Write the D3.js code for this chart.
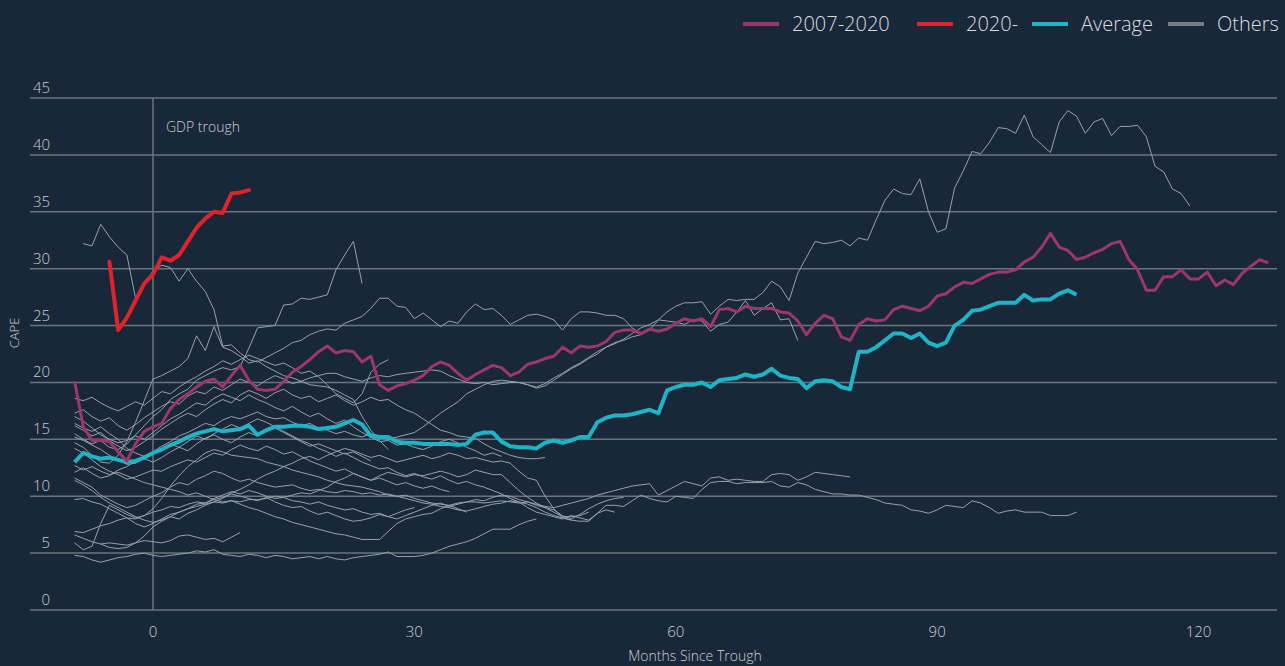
<!DOCTYPE html>
<html>
<head>
<meta charset="utf-8">
<script src="https://cdn.jsdelivr.net/npm/d3@7"></script>
<style>
  html, body { margin: 0; padding: 0; background: #182838; }
  svg { display: block; font-family: "Open Sans", "Noto Sans", sans-serif; font-weight: 300; }
</style>
</head>
<body>
<svg id="chart" width="1285" height="666"></svg>
<script>
// CAPE around recessions, months relative to the GDP trough

// 2007-2020 cycle, monthly from month -9
var gfcStart = -9;
var gfcValues = [20.1,16.1,14.9,14.9,14.8,13.9,13.1,14.6,15.7,16.1,
  16.4,17.7,18.5,19.0,19.6,20.1,20.3,19.6,20.6,21.5,
  20.2,19.4,19.3,19.4,20.1,20.9,21.4,22.0,22.7,23.2,
  22.6,22.8,22.7,21.8,22.3,19.8,19.3,19.7,19.9,20.2,
  20.6,21.4,21.8,21.5,20.8,20.2,20.7,21.1,21.5,21.3,
  20.6,20.9,21.6,21.8,22.1,22.3,23.1,22.6,23.2,23.1,
  23.2,23.6,24.4,24.6,24.6,24.3,24.7,24.5,24.7,25.2,
  25.6,25.4,25.6,24.9,26.4,26.5,26.2,26.7,26.5,26.5,
  26.5,26.2,26.1,25.4,24.2,25.2,25.9,25.6,24.0,23.7,
  25.1,25.6,25.4,25.5,26.4,26.7,26.5,26.3,26.7,27.6,
  27.8,28.4,28.8,28.7,29.1,29.5,29.7,29.7,29.9,30.6,
  31.0,31.9,33.1,31.9,31.6,30.8,31.0,31.4,31.7,32.2,
  32.4,30.8,29.9,28.1,28.1,29.3,29.3,29.9,29.1,29.1,
  29.7,28.5,29.0,28.6,29.6,30.2,30.8,30.5];

// 2020- cycle, monthly from month -5
var covidStart = -5;
var covidValues = [30.6,24.6,25.7,27.2,28.7,29.5,31.0,30.7,31.2,32.4,
  33.6,34.4,35.0,34.9,36.6,36.7,36.9];

// average of all cycles, monthly from month -9
var avgStart = -9;
var avgValues = [13.0,13.8,13.5,13.3,13.4,13.2,13.0,13.1,13.4,13.8,
  14.1,14.5,14.8,15.2,15.5,15.7,15.9,15.7,15.8,15.9,
  16.2,15.4,15.8,16.1,16.1,16.2,16.2,16.1,15.9,16.0,
  16.1,16.4,16.7,16.3,15.3,15.2,15.2,14.8,14.7,14.7,
  14.6,14.6,14.6,14.6,14.5,14.6,15.4,15.6,15.6,14.8,
  14.4,14.3,14.3,14.2,14.7,14.9,14.7,14.9,15.2,15.2,
  16.5,16.9,17.1,17.1,17.2,17.4,17.6,17.3,19.3,19.6,
  19.8,19.8,20.0,19.6,20.2,20.3,20.4,20.7,20.5,20.7,
  21.2,20.6,20.4,20.3,19.5,20.1,20.2,20.1,19.6,19.4,
  22.7,22.7,23.1,23.7,24.3,24.3,23.9,24.3,23.5,23.2,
  23.5,25.0,25.5,26.3,26.4,26.7,27.0,27.0,27.0,27.7,
  27.2,27.3,27.3,27.8,28.1,27.7];

// the other cycles: first month of each, then monthly values
var othersStart = [-8, -9, -9, -9, -9, -9, -9, -9, -9, -9, -6, -9, -9, -9, -9, -9, -9, -9, -9, -9];
var othersValues = [
  [32.2,32.0,33.9,32.8,31.9,31.2,27.4,28.6,29.8,30.3,30.1,28.9,30.0,28.9,28.0,26.4,23.2,23.3,22.6,22.0,
   21.8,22.2,22.6,23.0,23.5,23.7,24.2,24.5,24.7,24.6,25.2,25.5,25.8,26.5,27.4,27.4,26.7,26.6,25.6,26.1,
   25.5,24.9,25.4,25.2,26.2,26.9,26.4,26.5,25.9,25.1,25.5,25.9,26.0,25.8,25.5,24.6,25.6,26.2,26.2,26.1,
   25.9,25.9,25.6,24.8,24.3,24.6,25.5,25.4,25.3,25.1,25.5,25.4,24.5,25.1,25.3,26.2,27.2,25.9,26.5,27.0,
   25.5,25.6,23.7],
  [17.3,17.6,17.0,16.6,16.9,16.2,15.8,16.3,16.9,17.4,17.9,18.3,18.1,18.8,19.2,19.0,19.6,19.3,19.8,20.3,
   20.0,19.7,20.2,20.6,20.3,19.9,20.1,20.4,20.6,20.8,20.8,20.5,20.3,20.1,20.4,20.6,20.5,20.7,20.8,20.9,
   21.0,21.1,21.0,20.6,20.3,20.0,19.9,20.0,19.8,19.9,20.0,20.0,19.8,19.6,19.9,20.4,20.8,21.3,21.7,22.2,
   22.7,23.1,23.4,23.8,24.3,24.8,25.1,25.5,26.2,26.7,27.0,27.0,27.1,26.0,26.7,27.3,27.2,27.3,27.3,27.9,
   28.9,28.4,27.2,29.6,31.0,32.4,32.2,32.3,32.5,32.0,32.7,32.5,34.3,36.0,37.0,36.6,36.5,37.9,35.0,33.2,
   33.5,37.1,38.6,40.3,40.1,41.1,42.4,42.3,41.9,43.5,41.6,40.9,40.2,42.9,43.9,43.4,41.9,42.9,43.2,41.7,
   42.5,42.5,42.6,41.6,39.0,38.5,37.0,36.6,35.5],
  [15.5,15.0,14.6,14.9,14.3,14.1,14.6,15.4,16.2,17.0,17.6,18.5,19.0,19.4,20.2,20.6,21.0,21.3,21.1,21.4,
   23.0,24.8,24.9,25.0,26.8,26.9,27.4,27.3,27.5,27.7,29.9,31.2,32.4,28.7],
  [14.7,14.3,13.6,13.0,12.9,13.6,14.8,16.5,18.4,20.3,20.6,21.0,21.4,22.1,24.1,22.8,24.9,23.1,22.8,22.3,
   21.7,21.9,21.4,21.0,20.6,20.4,20.1,19.8,19.7,19.6,19.3,18.9,18.5,17.0,15.8,14.9,14.1],
  [12.1,12.5,12.0,11.6,11.8,12.3,12.6,13.1,13.5,13.9,14.4,14.8,15.3,15.6,16.0,16.4,16.2,16.7,17.0,16.8,
   17.1,17.4,17.0,16.8,16.9,16.5,16.2,16.4,16.0,15.8,15.5,15.7,15.4,15.2,15.5,15.3,15.0,15.2,15.4,15.6,
   16.1,16.7,17.3,17.8,18.3,19.0,19.4,19.8,20.1,20.2,20.1,20.0,19.8,19.5,19.7,20.2,20.7,21.2,21.6,22.1,
   22.5,23.1,23.5,23.7,24.0,24.2,24.6],
  [18.6,18.4,18.7,18.2,17.8,17.5,17.9,18.3,18.0,18.6,19.2,19.0,19.6,20.1,20.5,21.0,21.4,21.9,21.6,22.0,
   22.4,22.1,21.8,21.5,21.7,21.3,20.8,21.0,20.5,19.8,19.0,18.6,18.2,19.0,20.9,21.6,22.0],
  [16.2,15.8,15.3,15.6,14.9,14.4,14.0,14.3,14.8,15.3,15.9,16.4,16.9,17.3,17.0,17.6,18.1,18.5,18.2,18.9,
   19.3,19.0,18.6,19.1,19.4,18.9,18.6,18.8,18.3,18.6,18.9,18.4,18.0,18.3,18.7,18.4,18.5,18.0,17.6,17.3,
   16.8,16.3,15.8,15.6,15.3,15.2,15.1,14.6,14.2,13.9,13.6,13.4,13.3,13.3,13.4],
  [11.6,11.2,10.8,10.1,9.7,9.3,9.0,9.2,9.6,10.0,10.3,10.8,11.2,11.0,11.5,11.8,12.2,12.0,11.6,11.3,
   11.5,11.2,11.0,10.8,10.9,11.0,10.7,10.5,10.6,10.4,10.3,10.5,10.4,10.2,10.3,10.1,10.2,10.0,10.1,9.8,
   9.6,9.4,9.3,9.2,8.9,8.6],
  [4.8,4.7,4.4,4.2,4.4,4.6,4.7,4.9,5.0,4.8,4.7,4.8,4.9,5.0,5.2,5.1,5.3,4.9,4.8,4.7,
   4.9,4.8,4.6,4.8,4.7,4.5,4.6,4.7,4.5,4.7,4.5,4.4,4.6,4.7,4.8,4.9,5.1,4.7,4.7,4.7,
   4.8,5.0,5.3,5.6,5.8,6.0,6.3,6.7,7.1,7.1,7.1,7.5,7.8,8.0],
  [5.9,5.3,5.6,7.6,9.2,8.8,8.4,8.1,8.3,8.9,9.8,10.9,11.8,12.6,13.2,13.8,14.1,13.9,13.6,13.5,
   13.4,13.3,13.0,12.8,12.6,12.3,12.1,11.9,11.7,11.4,11.2,11.0,10.9,10.8,10.6,10.4,10.1,10.0,9.8,9.6,
   9.4,9.3,9.1,9.0,8.8,8.7,8.9,9.1,9.3,9.4,9.6,9.5,9.3,9.0,8.6,8.3,8.1,7.9],
  [5.8,5.9,5.8,5.7,5.9,6.1,6.0,5.9,6.1,6.5,6.6,6.4,6.2,6.3,6.0,6.4,6.8],
  [6.9,6.8,7.1,7.4,7.6,7.9,8.1,8.0,8.3,8.6,8.8,9.1,9.0,9.3,9.5,9.4,9.7,9.9,10.2,10.0,
   9.8,9.6,9.9,9.5,9.2,9.0,9.1,8.7,8.4,8.6,8.3,8.0,7.8,7.9,8.1,8.4,8.2,8.5,8.8,9.0],
  [6.6,6.3,6.0,5.8,5.5,5.4,5.5,5.9,6.5,7.3,7.8,8.2,8.6,8.9,9.1,9.3,9.5,9.4,9.6,9.5,
   9.7,9.7,9.8,10.0,9.9,10.1,10.3,10.2,10.5,10.8,11.3,11.6,12.0,11.7,11.4,11.8,12.1,11.9,11.7,11.9,
   11.8,12.0,12.2,12.0,11.7,11.9,12.3,12.1,11.9,11.9,11.2,10.5,9.9,9.4,9.0,8.6,8.2,8.2,8.3,8.6],
  [9.7,9.8,9.5,9.3,8.9,8.5,8.1,7.6,7.3,7.6,8.0,8.4,8.6,8.9,9.3,9.4,9.8,10.1,10.4,10.2,
   10.5,10.3,10.0,9.8,9.9,9.6,9.5,9.3,9.5,9.2,9.0,8.8,8.9,8.6,8.4,8.5,8.2,8.0,8.3,8.6,
   8.9,9.2,9.4,9.1,9.3,9.5,9.7,9.6,9.9,10.1,10.0,9.7,9.5,9.3,9.1,9.0,9.2,9.4,9.6,9.8,
   10.1,10.3,10.5,10.7,10.9,11.0,11.1,10.1,10.5,10.9,11.3,11.1,10.9,11.6,11.7,11.4,11.5,11.4,11.3,11.3,
   11.9,12.0,11.9,11.4,11.7,12.1,12.0,11.9,11.8,11.7],
  [11.4,11.0,10.5,9.9,9.4,9.0,8.6,8.2,7.9,7.7,7.9,8.2,8.0,8.5,8.8,9.2,9.5,9.8,10.3,10.6,
   11.0,11.5,11.9,12.2,12.6,12.9,13.3,13.5,13.2,13.6,13.9,14.2,14.0,13.7,13.4,13.6,13.3,13.0,13.2,13.4,
   13.6,13.3,13.5,13.8,13.6,13.3,13.4,13.2,13.0,13.1,12.9,12.2,11.6,11.4,10.0,8.9,8.1,7.9,7.8,7.8,
   8.5,9.2,9.2,9.1,9.6,10.1,9.8,9.6,9.5,10.0,9.9,9.8,10.6,11.2,11.3,11.3,11.1,11.2,11.2,11.2,
   11.3,10.9,10.8,11.2,11.0,10.6,10.4,10.2,10.2,10.1,10.1,9.9,9.7,9.4,9.3,9.2,8.8,8.7,8.5,8.8,
   9.2,9.1,9.0,9.6,9.4,9.0,8.5,8.7,8.8,8.6,8.6,8.6,8.3,8.3,8.3,8.6],
  [17.0,16.6,16.0,15.4,15.0,14.7,14.9,15.3,15.0,15.6,16.2,16.8,17.2,17.7,18.2,18.0,18.6,19.0,18.7,18.4,
   18.9,18.5,18.2,17.8,17.5,17.9,17.4,17.0,17.3,16.8,16.4,16.7,16.1,15.6,15.2,14.8,14.9,14.5,14.6,14.3,
   14.1,14.4,14.8,15.0,14.7,14.3,14.0,13.6,13.8,13.5],
  [14.2,13.8,13.2,12.6,12.2,11.9,11.5,11.7,12.0,12.3,12.2,12.6,12.9,13.2,13.0,13.4,13.8,13.6,14.1,14.5,
   14.2,14.0,14.4,14.1,13.7,13.9,13.5,13.1,12.8,12.5,12.2,12.4,12.0,11.7,11.4,11.6,11.3,11.0,11.2,10.9,
   10.7,10.9,10.6,10.4],
  [12.7,12.3,12.6,12.2,11.9,12.1,11.8,11.5,11.2,11.0,10.8,10.6,10.4,10.1,10.3,10.0,9.7,9.5,9.6,9.3,
   9.0,8.8,8.5,8.2,8.0,7.7,7.5,7.3,7.1,6.9,6.7,6.6,6.4,6.2,6.2,6.2,6.9,7.6,8.0,8.2,
   8.4,8.5,8.9,9.2,9.4,9.5,9.5,9.4,9.5,9.6,9.5,9.4,9.5,9.2,9.0,8.8,8.3,8.0,8.4,8.9,
   9.3,9.6,9.8,9.9],
  [16.4,16.0,15.7,16.1,15.5,15.0,14.2,13.8,13.5,13.9,14.2,14.6,14.3,14.8,15.3,15.0,15.5,15.9,16.3,16.0,
   16.4,16.8,16.5,16.1,15.7,15.3,14.9,14.6,14.2,13.9,13.5,13.8,13.4,13.0,12.7,12.4,12.5,12.1,11.8,12.0,
   11.7,11.5,11.8,11.4,11.1,11.3,11.0,10.8,10.5,10.2,9.8,9.5,9.0,8.6,8.4,8.2,8.0,8.3,8.1,7.9,
   8.5,8.8,8.6],
  [15.2,14.9,14.5,14.1,13.6,13.2,12.8,12.9,13.3,13.0,13.4,13.9,14.3,14.0,14.6,15.1,15.4,15.0,14.7,15.2,
   15.6,15.3,15.7,16.0,15.6,15.2,14.8,14.4,14.6,14.3,14.0,13.7,13.9,13.5,13.1]
];

var yTicks = [0, 5, 10, 15, 20, 25, 30, 35, 40, 45];
var xTicks = [0, 30, 60, 90, 120];
var legendNames = ["2007-2020", "2020-", "Average", "Others"];
var legendColors = ["#9b376b", "#e2222b", "#1fb3c6", "#737e89"];

var svg = d3.select("#chart");

var x = d3.scaleLinear().domain([-14, 129]).range([31, 1277]);
var y = d3.scaleLinear().domain([0, 45]).range([610, 98]);

var gridColor = "#68747f";
var textColor = "#c9ced4";

// horizontal grid lines
svg.append("g")
  .selectAll("line")
  .data(yTicks)
  .join("line")
  .attr("x1", 30)
  .attr("x2", 1277)
  .attr("y1", function(d) { return y(d); })
  .attr("y2", function(d) { return y(d); })
  .attr("stroke", gridColor)
  .attr("stroke-width", 1.5);

// y tick labels sit above their grid line
svg.append("g")
  .selectAll("text")
  .data(yTicks)
  .join("text")
  .attr("x", 50)
  .attr("y", function(d) { return y(d) - 5; })
  .attr("text-anchor", "end")
  .attr("fill", textColor)
  .style("font-size", "15px")
  .text(function(d) { return d; });

// x tick labels
svg.append("g")
  .selectAll("text")
  .data(xTicks)
  .join("text")
  .attr("x", function(d) { return x(d); })
  .attr("y", 637)
  .attr("text-anchor", "middle")
  .attr("fill", textColor)
  .style("font-size", "15px")
  .text(function(d) { return d; });

// GDP trough marker
svg.append("line")
  .attr("x1", x(0))
  .attr("x2", x(0))
  .attr("y1", y(45))
  .attr("y2", y(0))
  .attr("stroke", gridColor)
  .attr("stroke-width", 1.5);

svg.append("text")
  .attr("x", x(0) + 13)
  .attr("y", 132)
  .attr("fill", textColor)
  .style("font-size", "14px")
  .text("GDP trough");

function seriesLine(start) {
  return d3.line()
    .x(function(d, i) { return x(start + i); })
    .y(function(d) { return y(d); });
}

// others, thin grey
svg.append("g")
  .selectAll("path")
  .data(othersValues)
  .join("path")
  .attr("d", function(d, i) { return seriesLine(othersStart[i])(d); })
  .attr("fill", "none")
  .attr("stroke", "#98a1aa")
  .attr("stroke-width", 1)
  .attr("stroke-linejoin", "round");

svg.append("path")
  .attr("d", seriesLine(avgStart)(avgValues))
  .attr("fill", "none")
  .attr("stroke", legendColors[2])
  .attr("stroke-width", 4)
  .attr("stroke-linejoin", "round");

svg.append("path")
  .attr("d", seriesLine(gfcStart)(gfcValues))
  .attr("fill", "none")
  .attr("stroke", legendColors[0])
  .attr("stroke-width", 3)
  .attr("stroke-linejoin", "round");

svg.append("path")
  .attr("d", seriesLine(covidStart)(covidValues))
  .attr("fill", "none")
  .attr("stroke", legendColors[1])
  .attr("stroke-width", 4)
  .attr("stroke-linejoin", "round")
  .attr("stroke-linecap", "round");

// axis titles
svg.append("text")
  .attr("transform", "translate(19,333)rotate(-90)")
  .attr("text-anchor", "middle")
  .attr("fill", textColor)
  .style("font-size", "13px")
  .text("CAPE");

svg.append("text")
  .attr("x", 695)
  .attr("y", 661)
  .attr("text-anchor", "middle")
  .attr("fill", textColor)
  .style("font-size", "14px")
  .text("Months Since Trough");

// legend
var legendX = [743, 917, 1032, 1168];
var legend = svg.append("g")
  .selectAll("g")
  .data(legendNames)
  .join("g")
  .attr("transform", function(d, i) { return "translate(" + legendX[i] + ",24)"; });

legend.append("line")
  .attr("x1", 0)
  .attr("x2", 36)
  .attr("stroke", function(d, i) { return legendColors[i]; })
  .attr("stroke-width", 4);

legend.append("text")
  .attr("x", 49)
  .attr("y", 7)
  .attr("fill", "#d8dde2")
  .style("font-size", "20px")
  .text(function(d) { return d; });
</script>
</body>
</html>
